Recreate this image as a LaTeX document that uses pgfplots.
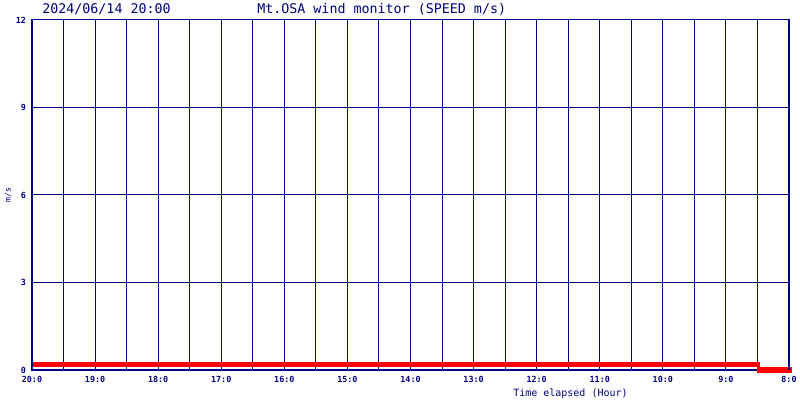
\documentclass[border=0pt]{standalone}
\usepackage{pgfplots}
\pgfplotsset{compat=1.18}
\usepackage{fontspec}
\setmainfont{DejaVu Sans Mono}
\definecolor{navy}{RGB}{0,0,128}
\definecolor{rred}{RGB}{255,0,0}
\begin{document}
\begin{tikzpicture}
\useasboundingbox[fill=white] (0pt,0pt) rectangle (600pt,300pt);
\begin{axis}[
  at={(24pt,22.5pt)}, anchor=south west,
  scale only axis, width=567.75pt, height=262.5pt,
  xmin=0, xmax=12, ymin=0, ymax=12,
  xtick={0,1,...,12},
  minor xtick={0.5,1.5,...,11.5},
  xticklabels={20:0,19:0,18:0,17:0,16:0,15:0,14:0,13:0,12:0,11:0,10:0,9:0,8:0},
  ytick={0,3,6,9,12},
  grid=both,
  grid style={draw=navy, line width=0.75pt},
  major grid style={draw=navy, line width=0.75pt},
  minor grid style={draw=navy, line width=0.75pt},
  major tick length=0pt, minor tick length=0pt,
  axis line style={draw=navy, line width=0.75pt},
  tick label style={text=navy, font=\fontsize{6.3}{6.3}\selectfont\bfseries},
  /pgf/number format/assume math mode=true,
  xticklabel style={yshift=-1pt},
  yticklabel style={xshift=-1pt},
  clip=false,
]
\addplot[rred, line width=3.75pt] coordinates {(0,0.2) (11.54,0.2)};
\addplot[rred, line width=3.75pt] coordinates {(11.5,0) (12.05,0)};
\draw[navy, line width=1.6pt] (rel axis cs:0,0) -- (rel axis cs:0,1);
\draw[navy, line width=1.6pt] (rel axis cs:1,0) -- (rel axis cs:1,1);
\end{axis}
\node[anchor=base west, text=navy, font=\fontsize{10}{10}\selectfont, inner sep=0] at (31.5pt,289.5pt) {2024/06/14 20:00};
\node[anchor=base west, text=navy, font=\fontsize{10}{10}\selectfont, inner sep=0] at (192.75pt,289.5pt) {Mt.OSA wind monitor (SPEED m/s)};
\node[anchor=base west, text=navy, font=\fontsize{7.5}{7.5}\selectfont, inner sep=0] at (384.75pt,2.5pt) {Time elapsed (Hour)};
\node[rotate=90, text=navy, font=\fontsize{6}{6}\selectfont, inner sep=0] at (6pt,153.75pt) {m/s};
\end{tikzpicture}
\end{document}
